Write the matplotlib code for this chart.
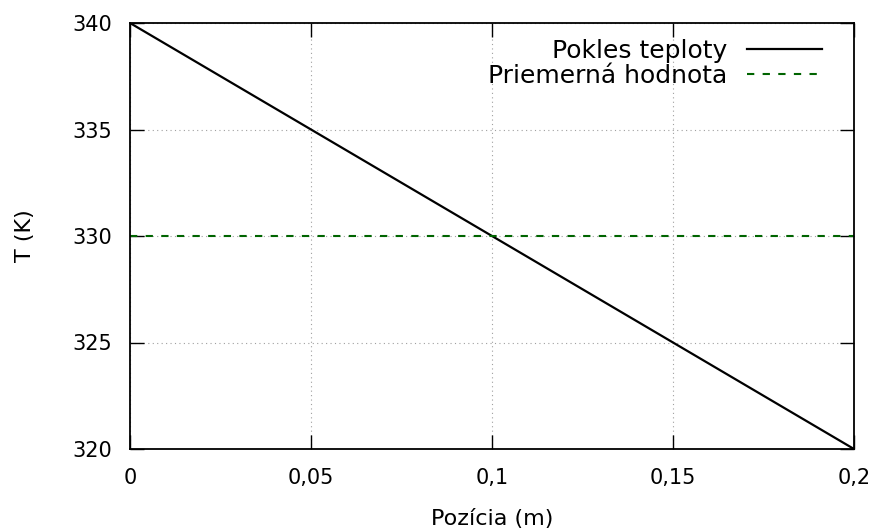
import numpy as np
import matplotlib
matplotlib.use('Agg')
import matplotlib.pyplot as plt
from matplotlib.ticker import FuncFormatter

# temperature drop along the rod
pozicia = [0.0, 0.2]
teplota = [340, 320]
priemer = 330

xticks = [0, 0.05, 0.1, 0.15, 0.2]
yticks = [320, 325, 330, 335, 340]

plt.rcParams['font.family'] = 'DejaVu Sans'
fig = plt.figure(figsize=(8.77, 5.31), dpi=100)
ax = fig.add_axes([130/877, 1 - 449/531, 724/877, 426/531])

ax.plot(pozicia, teplota, color='black', lw=1.6, label='Pokles teploty')
ax.axhline(priemer, color='#006400', lw=1.5, ls=(0, (3.5, 4)), label='Priemerná hodnota')

ax.set_xlim(0, 0.2)
ax.set_ylim(320, 340)
ax.set_xticks(xticks)
ax.set_yticks(yticks)
ax.xaxis.set_major_formatter(FuncFormatter(lambda v, p: ('%g' % round(v, 3)).replace('.', ',')))
ax.tick_params(direction='in', length=10, width=1, top=True, right=True, labelsize=15)
ax.tick_params(axis='x', pad=14)
ax.tick_params(axis='y', pad=13)
ax.grid(True, color='#a0a0a0', ls=(0, (1, 3)), lw=0.8)
for s in ax.spines.values():
    s.set_linewidth(1.3)

ax.set_xlabel('Pozícia (m)', fontsize=16, labelpad=15)
ax.set_ylabel('T (K)', fontsize=16, labelpad=27)

leg = ax.legend(loc='upper right', frameon=False, markerfirst=False, fontsize=18,
                handlelength=3.0, handletextpad=0.78, labelspacing=0.05,
                borderpad=0, borderaxespad=0, bbox_to_anchor=(0.956, 0.963))
for t in leg.get_texts():
    t.set_ha('right')
leg._legend_box.align = 'right'

plt.savefig('out.png', dpi=100)
